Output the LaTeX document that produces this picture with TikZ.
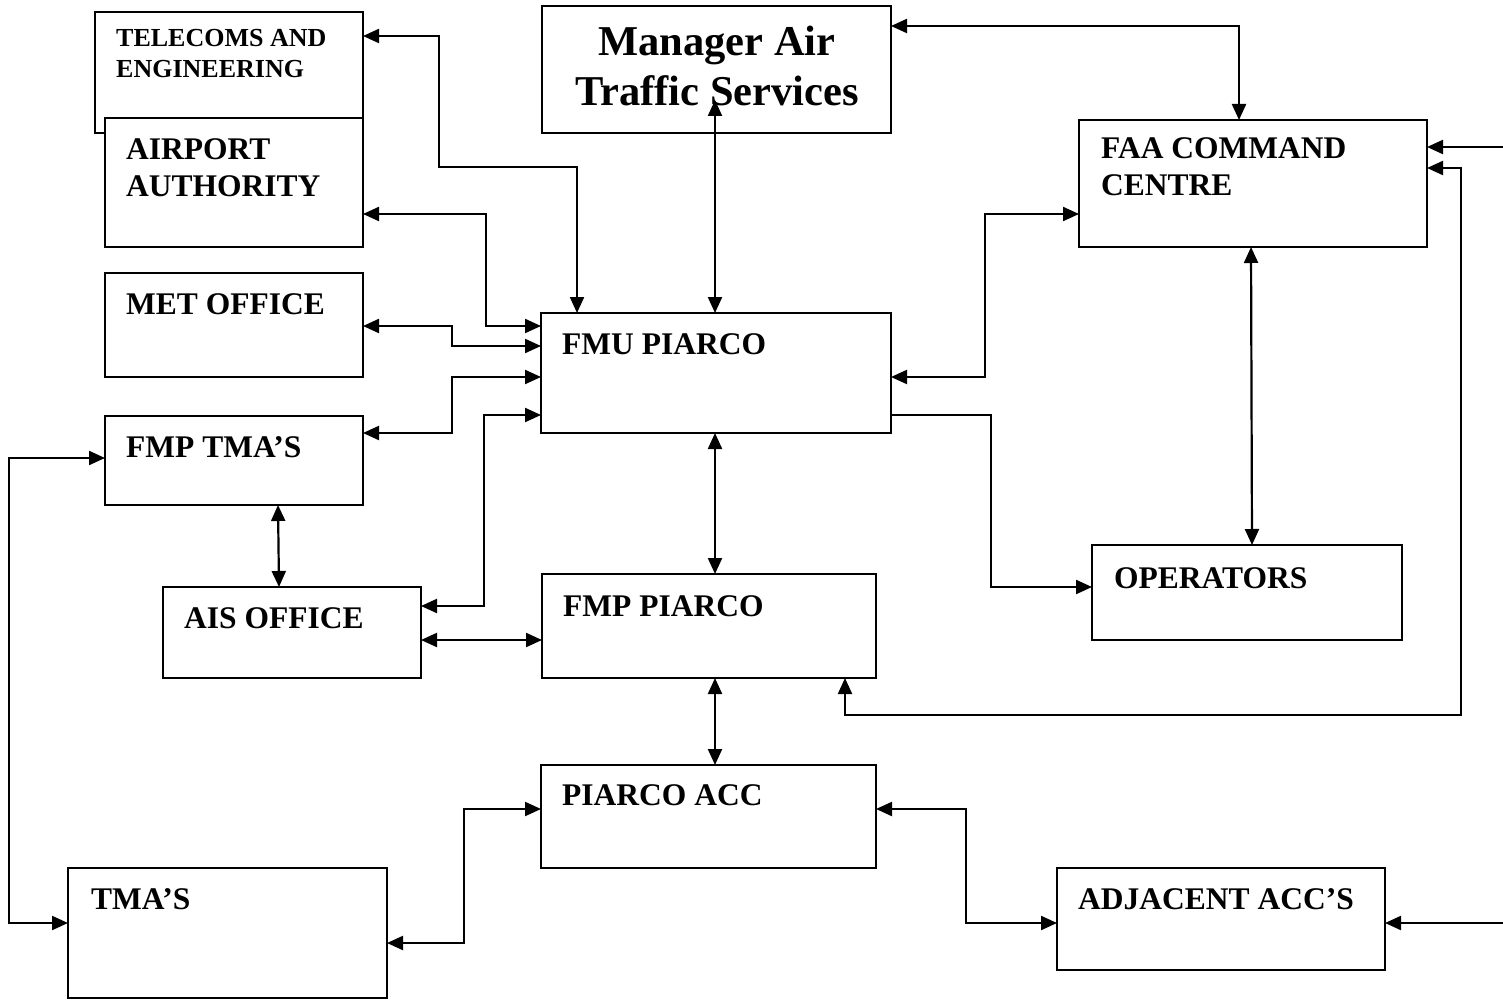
\documentclass[tikz,border=0pt]{standalone}
\usepackage{fontspec}
\setmainfont{Liberation Serif}
\usetikzlibrary{arrows.meta}
\tikzset{
  >={Triangle[length=16pt,width=14pt]},
  box/.style={draw, line width=2.2pt, fill=white, inner sep=0pt, outer sep=0pt, anchor=north west},
  lbl/.style={anchor=base west, inner sep=0pt, align=left, font=\bfseries\fontsize{31.5}{37.5}\selectfont},
  lblsmall/.style={anchor=base west, inner sep=0pt, align=left, font=\bfseries\fontsize{26}{31}\selectfont},
  lblbig/.style={anchor=base, inner sep=0pt, align=center, font=\bfseries\fontsize{42.5}{50}\selectfont},
  dbl/.style={line width=2.2pt, <->},
  sgl/.style={line width=2.2pt, ->}
}
\begin{document}
\begin{tikzpicture}[x=1pt, y=-1pt]
\useasboundingbox (0,0) rectangle (1503,1000);
% boxes
\node[box, minimum width=268pt, minimum height=121pt] (tele) at (95,12) {};
\node[box, minimum width=258pt, minimum height=129pt] (apt) at (105,118) {};
\node[box, minimum width=349pt, minimum height=127pt] (mgr) at (542,6) {};
\node[box, minimum width=348pt, minimum height=127pt] (faa) at (1079,120) {};
\node[box, minimum width=258pt, minimum height=104pt] (met) at (105,273) {};
\node[box, minimum width=350pt, minimum height=120pt] (fmu) at (541,313) {};
\node[box, minimum width=258pt, minimum height=89pt] (fmptma) at (105,416) {};
\node[box, minimum width=258pt, minimum height=91pt] (ais) at (163,587) {};
\node[box, minimum width=334pt, minimum height=104pt] (fmpp) at (542,574) {};
\node[box, minimum width=310pt, minimum height=95pt] (ops) at (1092,545) {};
\node[box, minimum width=335pt, minimum height=103pt] (acc) at (541,765) {};
\node[box, minimum width=319pt, minimum height=130pt] (tmas) at (68,868) {};
\node[box, minimum width=328pt, minimum height=102pt] (adj) at (1057,868) {};
% labels (multi-line labels are placed by the baseline of their last line)
\node[lblsmall] (ttele) at (116,78) {TELECOMS AND\\ENGINEERING};
\node[lbl] (tapt) at (126,197) {AIRPORT\\AUTHORITY};
\node[lblbig] (tmgr) at (717,106) {Manager Air\\Traffic Services};
\node[lbl] (tfaa) at (1101,196) {FAA COMMAND\\CENTRE};
\node[lbl] (tmet) at (126,314) {MET OFFICE};
\node[lbl] (tfmu) at (562,354) {FMU PIARCO};
\node[lbl] (tfmptma) at (126,457) {FMP TMA’S};
\node[lbl] (tais) at (184,628) {AIS OFFICE};
\node[lbl] (tfmpp) at (563,616) {FMP PIARCO};
\node[lbl] (tops) at (1114,588) {OPERATORS};
\node[lbl] (tacc) at (562,805) {PIARCO ACC};
\node[lbl] (ttmas) at (91,909) {TMA’S};
\node[lbl] (tadj) at (1078,909) {ADJACENT ACC’S};
% free ends
\coordinate (mgrtip) at (715,100);
\coordinate (ein1) at (1503,147);
\coordinate (ein2) at (1503,923);
% connectors
\draw[dbl] (tele.east |- 0,36) -| (439,167) -| (fmu.north -| 577,0);
\draw[dbl] (apt.east |- 0,214) -| (486,326) -- (fmu.west |- 0,326);
\draw[dbl] (met.east |- 0,326) -| (452,346) -- (fmu.west |- 0,346);
\draw[dbl] (fmptma.east |- 0,433) -| (452,377) -- (fmu.west |- 0,377);
\draw[dbl] (ais.east |- 0,606) -| (484,415) -- (fmu.west |- 0,415);
\draw[dbl] (fmu.north -| mgrtip) -- (mgrtip);
\draw[dbl] (mgr.east |- 0,26) -| (faa.north -| 1239,0);
\draw[dbl] (fmu.east |- 0,377) -| (985,214) -- (faa.west |- 0,214);
\draw[sgl] (fmu.east |- 0,415) -| (991,587) -- (ops.west |- 0,587);
\draw[dbl] (faa.south -| 1251,0) -- (ops.north -| 1252,0);
\draw[dbl] (faa.east |- 0,168) -| (1461,715) -| (fmpp.south -| 845,0);
\draw[sgl] (ein1) -- (faa.east |- ein1);
\draw[sgl] (ein2) -- (adj.east |- ein2);
\draw[dbl] (fmu.south -| 715,0) -- (fmpp.north -| 715,0);
\draw[dbl] (ais.east |- 0,640) -- (fmpp.west |- 0,640);
\draw[dbl] (fmptma.south -| 278,0) -- (ais.north -| 279,0);
\draw[dbl] (fmptma.west |- 0,458) -| (9,923) -- (tmas.west |- 0,923);
\draw[dbl] (fmpp.south -| 715,0) -- (acc.north -| 715,0);
\draw[dbl] (tmas.east |- 0,943) -| (464,809) -- (acc.west |- 0,809);
\draw[dbl] (acc.east |- 0,809) -| (966,923) -- (adj.west |- 0,923);
\end{tikzpicture}
\end{document}
